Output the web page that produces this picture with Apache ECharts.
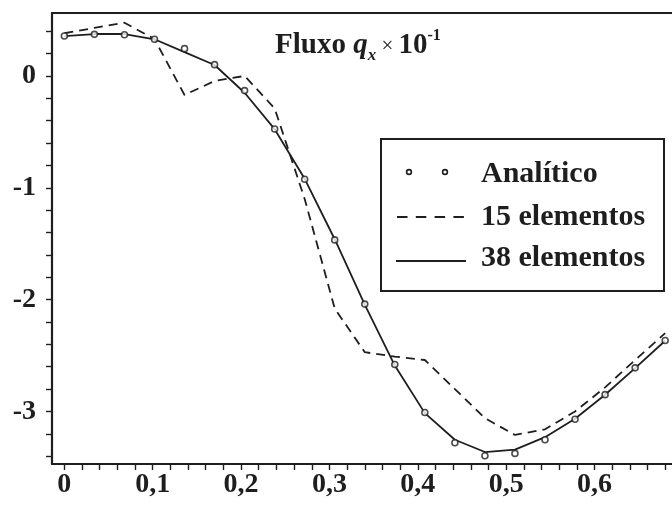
<!DOCTYPE html>
<html>
<head>
<meta charset="utf-8">
<script src="https://cdn.jsdelivr.net/npm/echarts@6/dist/echarts.min.js"></script>
<style>html,body{margin:0;padding:0;background:#fff;}#c{width:672px;height:505px;}</style>
</head>
<body>
<div id="c"></div>
<script>
// ---- data ----
const xNodes = [0, 0.034, 0.068, 0.102, 0.136, 0.17, 0.204, 0.238, 0.272, 0.306, 0.34, 0.374, 0.408, 0.442, 0.476, 0.51, 0.544, 0.578, 0.612, 0.646, 0.68];
const analitico = [0.357, 0.372, 0.369, 0.328, 0.244, 0.101, -0.131, -0.474, -0.924, -1.466, -2.04, -2.58, -3.01, -3.28, -3.396, -3.375, -3.253, -3.07, -2.85, -2.61, -2.365];
const elem15 = [0.382, 0.43, 0.476, 0.33, -0.17, -0.045, 0.0, -0.29, -1.1, -2.08, -2.47, -2.51, -2.54, -2.80, -3.06, -3.21, -3.16, -3.0, -2.785, -2.54, -2.30];
const elem38 = [0.357, 0.375, 0.375, 0.328, 0.213, 0.098, -0.15, -0.476, -0.92, -1.46, -2.044, -2.59, -3.015, -3.253, -3.363, -3.342, -3.23, -3.065, -2.851, -2.612, -2.368];
const xTickLabels = [0, 0.1, 0.2, 0.3, 0.4, 0.5, 0.6];
const xMinorTicks = [0, 0.02, 0.04, 0.06, 0.08, 0.1, 0.12, 0.14, 0.16, 0.18, 0.2, 0.22, 0.24, 0.26, 0.28, 0.3, 0.32, 0.34, 0.36, 0.38, 0.4, 0.42, 0.44, 0.46, 0.48, 0.5, 0.52, 0.54, 0.56, 0.58, 0.6, 0.62, 0.64, 0.66, 0.68];
const yTickLabels = [0, -1, -2, -3];
const yMinorTicks = [0.4, 0.2, 0, -0.2, -0.4, -0.6, -0.8, -1, -1.2, -1.4, -1.6, -1.8, -2, -2.2, -2.4, -2.6, -2.8, -3, -3.2, -3.4];
const legendNames = ['Analítico', '15 elementos', '38 elementos'];

const INK = '#1e1e1e';
const FONT = '"Liberation Serif", "Times New Roman", serif';
const zip = (xs, ys) => xs.map((x, i) => [x, ys[i]]);

const chart = echarts.init(document.getElementById('c'), null, {renderer: 'canvas'});
const option = {
  animation: false,
  backgroundColor: '#fff',
  grid: {left: 52, right: -2, top: 13, bottom: 41, outerBoundsMode: 'none', containLabel: false},
  xAxis: [{
    type: 'value', min: -0.014, max: 0.69,
    axisLine: {show: true, onZero: false, lineStyle: {color: INK, width: 2.2}},
    axisTick: {show: true, inside: false, length: 6, customValues: xMinorTicks, lineStyle: {color: INK, width: 1.4}},
    axisLabel: {show: true, customValues: xTickLabels, margin: 7,
      formatter: v => v === 0 ? '0' : v.toFixed(1).replace('.', ','),
      color: INK, fontFamily: FONT, fontWeight: 'bold', fontSize: 28},
    splitLine: {show: false}
  }, {
    type: 'value', position: 'top', min: -0.014, max: 0.69,
    axisLine: {show: true, onZero: false, lineStyle: {color: INK, width: 2.2}},
    axisTick: {show: false}, axisLabel: {show: false}, splitLine: {show: false}
  }],
  yAxis: [{
    type: 'value', min: -3.47, max: 0.563,
    axisLine: {show: true, onZero: false, lineStyle: {color: INK, width: 2.2}},
    axisTick: {show: true, inside: false, length: 6, customValues: yMinorTicks, lineStyle: {color: INK, width: 1.4}},
    axisLabel: {show: true, customValues: yTickLabels, margin: 16,
      formatter: v => String(v),
      color: INK, fontFamily: FONT, fontWeight: 'bold', fontSize: 28},
    splitLine: {show: false}
  }],
  series: [{
    name: legendNames[1], type: 'line', data: zip(xNodes, elem15), showSymbol: false, symbol: 'none',
    lineStyle: {color: INK, width: 1.8, type: [9, 6]}, z: 2
  }, {
    name: legendNames[2], type: 'line', data: zip(xNodes, elem38), showSymbol: false, symbol: 'none',
    lineStyle: {color: INK, width: 1.8}, z: 3
  }, {
    name: legendNames[0], type: 'scatter', data: zip(xNodes, analitico), symbol: 'circle', symbolSize: 6,
    itemStyle: {color: '#fff', borderColor: INK, borderWidth: 1.6}, z: 4
  }],
  graphic: [
    {type: 'text', left: 275, top: 28, z: 10, style: {
      text: '{b|Fluxo }{bi|q}{sub|x}{r| × }{b|10}{sup|-1}',
      fill: INK,
      rich: {
        b: {fontFamily: FONT, fontWeight: 'bold', fontSize: 29, fill: INK, lineHeight: 36},
        bi: {fontFamily: FONT, fontWeight: 'bold', fontStyle: 'italic', fontSize: 29, fill: INK, lineHeight: 36},
        sub: {fontFamily: FONT, fontWeight: 'bold', fontStyle: 'italic', fontSize: 17, fill: INK, verticalAlign: 'bottom', lineHeight: 36, padding: [12, 0, 0, 0]},
        r: {fontFamily: FONT, fontSize: 21, fill: INK, lineHeight: 36},
        sup: {fontFamily: FONT, fontWeight: 'bold', fontSize: 16, fill: INK, verticalAlign: 'top', lineHeight: 36, padding: [0, 0, 12, 0]}
      }
    }},
    {type: 'rect', z: 10, shape: {x: 381, y: 139, width: 283, height: 152}, style: {fill: '#fff', stroke: INK, lineWidth: 2}},
    {type: 'circle', z: 11, shape: {cx: 409, cy: 172, r: 2.4}, style: {fill: '#fff', stroke: INK, lineWidth: 1.6}},
    {type: 'circle', z: 11, shape: {cx: 445, cy: 172, r: 2.4}, style: {fill: '#fff', stroke: INK, lineWidth: 1.6}},
    {type: 'line', z: 11, shape: {x1: 397, y1: 217, x2: 464, y2: 217}, style: {stroke: INK, lineWidth: 1.8, lineDash: [10.5, 8.3]}},
    {type: 'line', z: 11, shape: {x1: 396, y1: 261, x2: 466, y2: 261}, style: {stroke: INK, lineWidth: 1.8}},
    {type: 'text', z: 11, x: 481, y: 174, style: {text: legendNames[0], fill: INK, font: 'bold 30px ' + FONT, verticalAlign: 'middle'}},
    {type: 'text', z: 11, x: 481, y: 217, style: {text: legendNames[1], fill: INK, font: 'bold 30px ' + FONT, verticalAlign: 'middle'}},
    {type: 'text', z: 11, x: 481, y: 258, style: {text: legendNames[2], fill: INK, font: 'bold 30px ' + FONT, verticalAlign: 'middle'}}
  ]
};
chart.setOption(option);
</script>
</body>
</html>
